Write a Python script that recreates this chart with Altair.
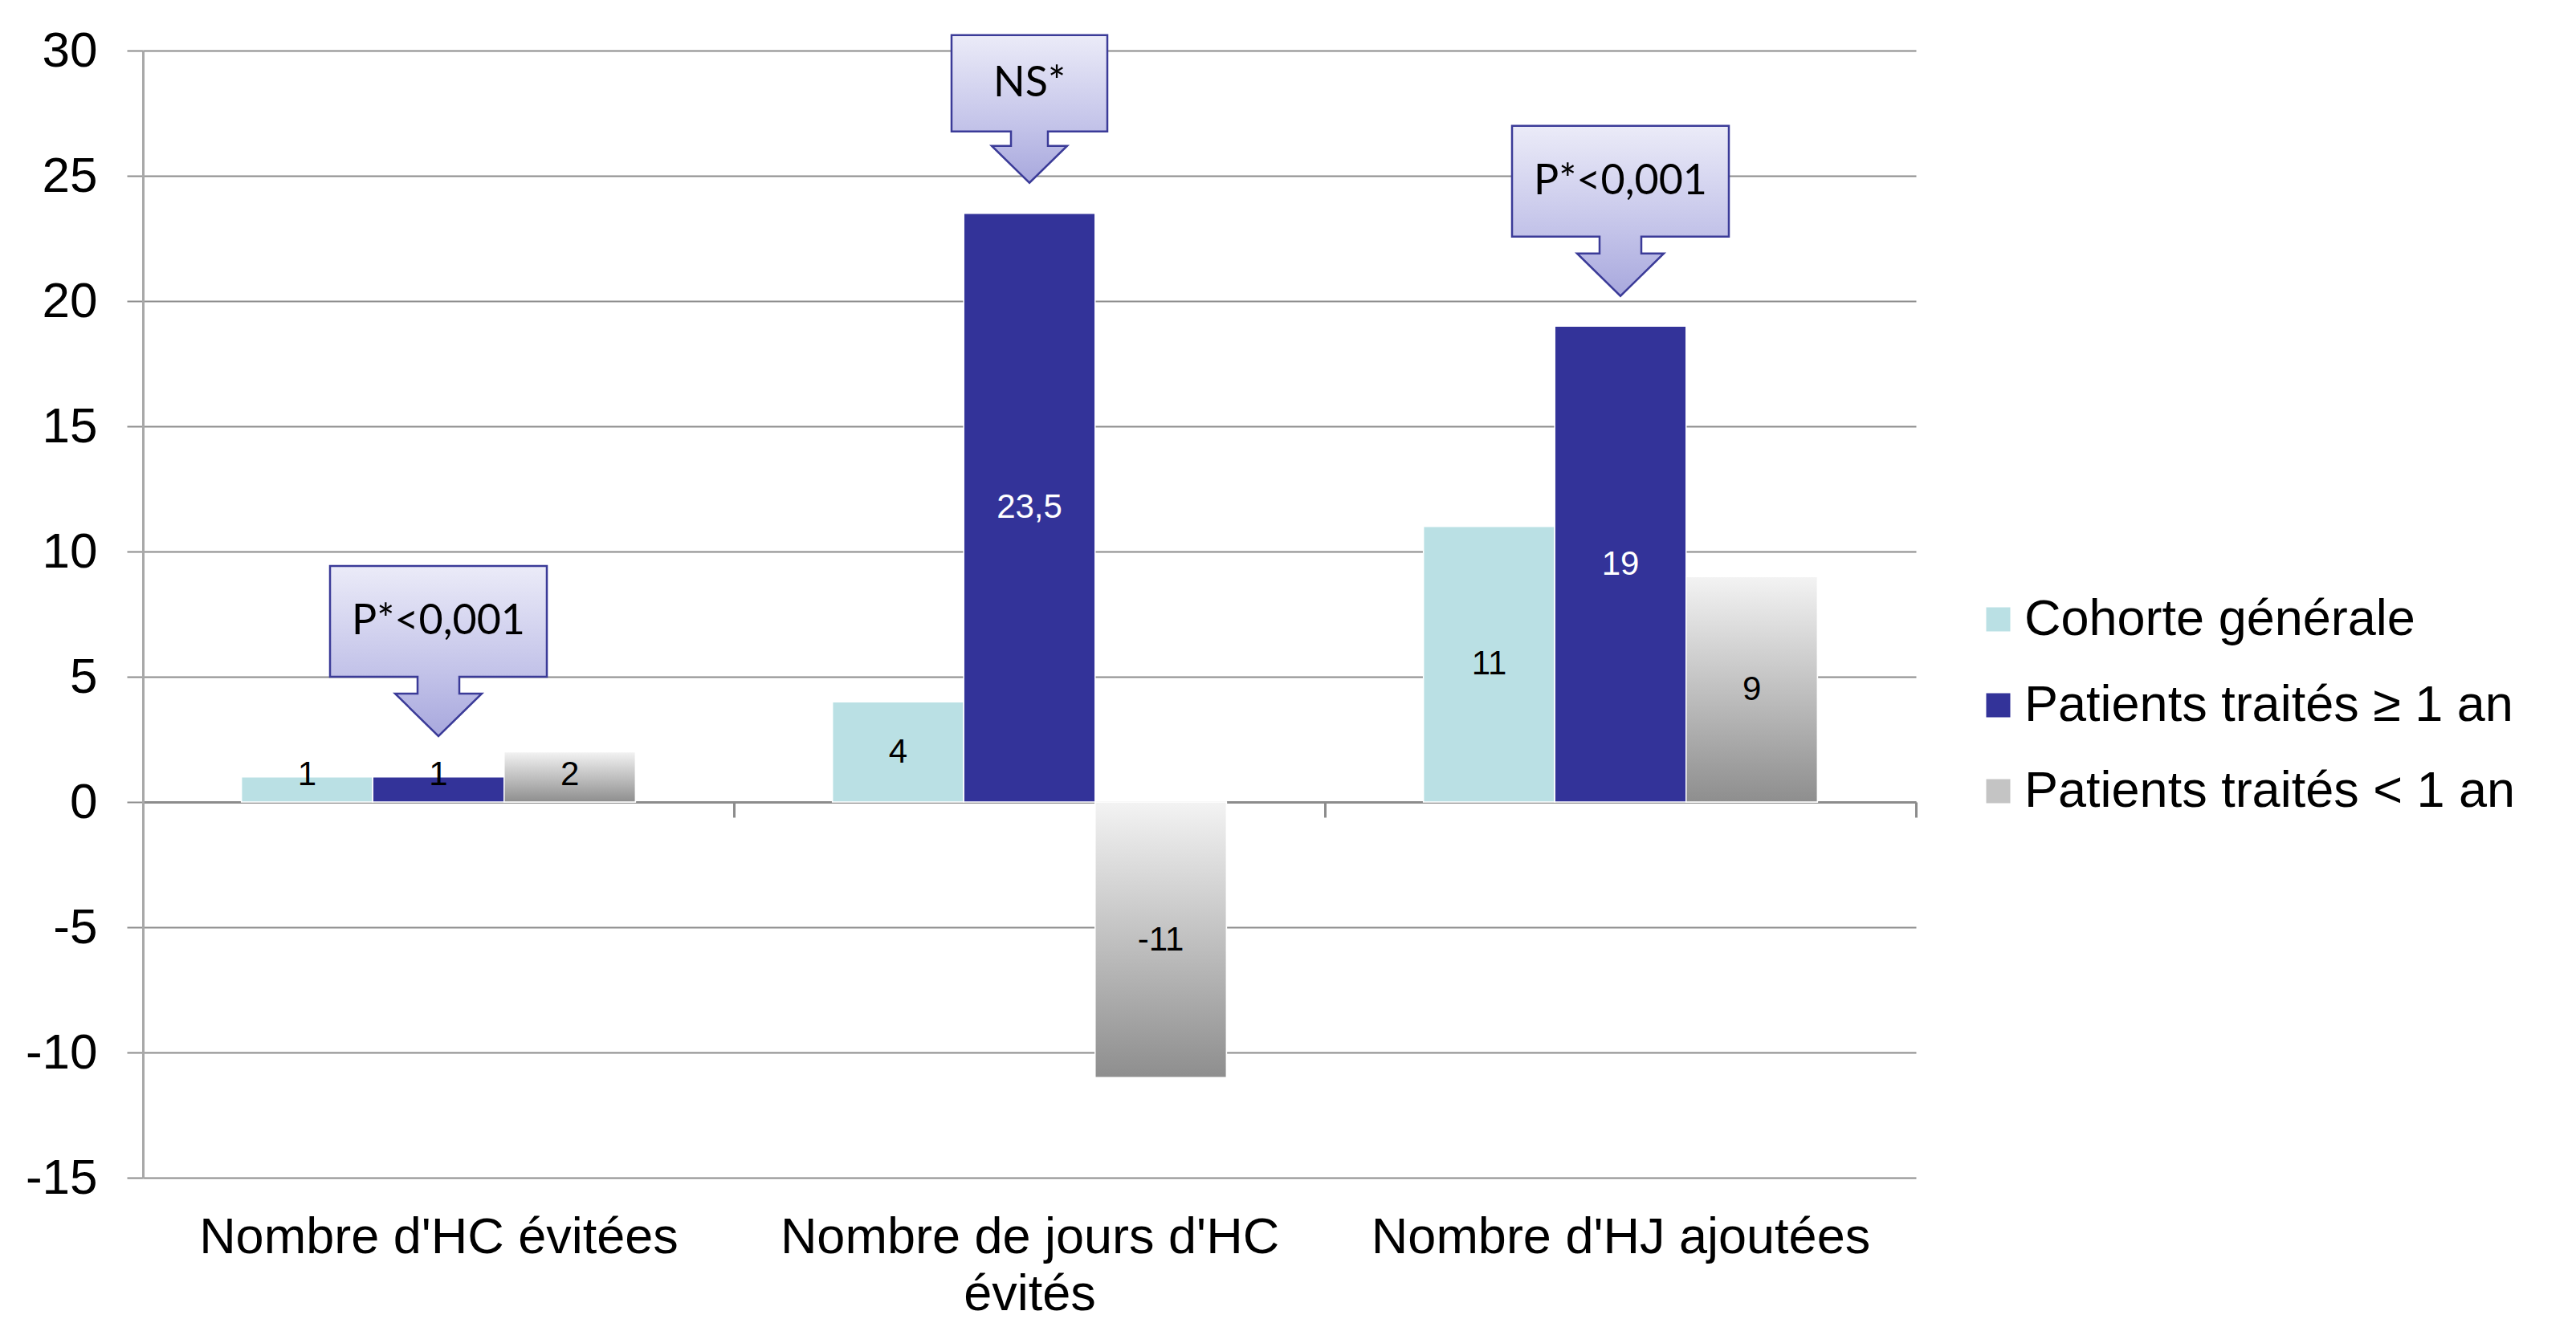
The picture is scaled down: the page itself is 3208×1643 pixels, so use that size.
import altair as alt
import pandas as pd

# ---------------- data ----------------
categories = ["Nombre d'HC évitées", "Nombre de jours d'HC évités", "Nombre d'HJ ajoutées"]
category_label_lines = [["Nombre d'HC évitées"], ["Nombre de jours d'HC", "évités"], ["Nombre d'HJ ajoutées"]]
series = ["Cohorte générale", "Patients traités ≥ 1 an", "Patients traités < 1 an"]
cohorte_generale = [1, 4, 11]
traites_plus_1an = [1, 23.5, 19]
traites_moins_1an = [2, -11, 9]
y_ticks = [-15, -10, -5, 0, 5, 10, 15, 20, 25, 30]

callout_categories = ["Nombre d'HC évitées", "Nombre de jours d'HC évités", "Nombre d'HJ ajoutées"]
callout_series = ["Patients traités ≥ 1 an", "Patients traités ≥ 1 an", "Patients traités ≥ 1 an"]
callout_texts = ["P*<0,001", "NS*", "P*<0,001"]
callout_tips = [2.63, 24.72, 20.2]

# ---------------- table ----------------
rows = []
for s, vals in zip(series, [cohorte_generale, traites_plus_1an, traites_moins_1an]):
    for c, v in zip(categories, vals):
        rows.append({"categorie": c, "serie": s, "valeur": v,
                     "label": f"{v:g}".replace(".", ",")})
df = pd.DataFrame(rows)

cdf = pd.DataFrame({"categorie": callout_categories, "serie": callout_series,
                    "texte": callout_texts, "pointe": callout_tips,
                    "idx": list(range(len(callout_texts)))})

# ---------------- styles ----------------
FONT = "Liberation Sans"
GRID = "#8c8c8c"
COLORS = ["#bae0e4", "#333399", "#c4c4c4"]

gray_grad = alt.Gradient(gradient="linear", x1=0, y1=0, x2=0, y2=1,
                         stops=[alt.GradientStop(color="#f3f3f3", offset=0),
                                alt.GradientStop(color="#8e8e8e", offset=1)])
callout_grad = alt.Gradient(gradient="linear", x1=0, y1=0, x2=0, y2=1,
                            stops=[alt.GradientStop(color="#ebebf8", offset=0),
                                   alt.GradientStop(color="#c3c3e9", offset=0.62),
                                   alt.GradientStop(color="#a8a8dd", offset=1)])

# label wrapping expression built from the label lines list
expr = "datum.label"
for c, lines in zip(categories, category_label_lines):
    if len(lines) > 1:
        arr = "[" + ", ".join('"' + l + '"' for l in lines) + "]"
        expr = f'datum.label == "{c}" ? {arr} : ({expr})'

x_enc = alt.X("categorie:N", sort=categories, title=None,
              scale=alt.Scale(domain=categories, paddingInner=0, paddingOuter=0),
              axis=alt.Axis(orient="bottom", offset=-468, tickBand="extent",
                            domainColor=GRID, domainWidth=3, tickColor=GRID,
                            tickWidth=3, tickSize=19, labelPadding=492,
                            labelFont=FONT, labelFontSize=63, labelColor="black",
                            labelLineHeight=71, labelAngle=0, labelLimit=1200,
                            labelExpr=expr, grid=False))
xo_enc = alt.XOffset("serie:N", sort=series,
                     scale=alt.Scale(domain=series, paddingInner=0, paddingOuter=0.75))
y_scale = alt.Scale(domain=[-15, 30], nice=False, zero=False)
y_axis = alt.Axis(values=y_ticks, grid=True, gridColor=GRID, gridWidth=2,
                  domainColor="#a8a8a8", domainWidth=3, tickColor=GRID,
                  tickWidth=2, tickSize=20, labelPadding=37, labelFont=FONT,
                  labelFontSize=62, labelColor="black", title=None,
                  labelExpr="datum.value < 0 ? '-' + abs(datum.value) : '' + datum.value")

base = alt.Chart(df)

bars = base.mark_bar(stroke="white", strokeWidth=1.5).encode(
    x=x_enc, xOffset=xo_enc,
    y=alt.Y("valeur:Q", scale=y_scale, axis=y_axis),
    color=alt.Color("serie:N", sort=series,
                    scale=alt.Scale(domain=series, range=COLORS),
                    legend=alt.Legend(orient="none", legendX=2279, legendY=677,
                                      title=None, symbolType="square",
                                      symbolSize=900, symbolStrokeWidth=0,
                                      labelFont=FONT, labelFontSize=63,
                                      labelColor="black", rowPadding=43,
                                      labelOffset=1, labelLimit=1200)),
)

gray_bars = base.transform_filter(alt.datum.serie == series[2]).mark_bar(
    fill=gray_grad, stroke="white", strokeWidth=1.5).encode(
    x=x_enc, xOffset=xo_enc, y=alt.Y("valeur:Q", scale=y_scale, axis=y_axis))

bar_labels = base.transform_calculate(
    mid="datum.valeur > 0 ? max(datum.valeur / 2, 1.08) : datum.valeur / 2"
).mark_text(font=FONT, fontSize=42, baseline="middle", align="center").encode(
    x=x_enc, xOffset=xo_enc,
    y=alt.Y("mid:Q", scale=y_scale, axis=y_axis),
    text="label:N",
    color=alt.condition(
        f"datum.serie == '{series[1]}' && datum.valeur >= 5",
        alt.value("white"), alt.value("black")),
)

# callout shapes (tip of the arrow at origin, coordinates in px with size=4)
shape_big = ("M-135,-212L135,-212L135,-74L26,-74L26,-53L54,-53L0,0"
             "L-54,-53L-26,-53L-26,-74L-135,-74Z")
shape_small = ("M-97,-184L97,-184L97,-64L23,-64L23,-46L47,-46L0,0"
               "L-47,-46L-23,-46L-23,-64L-97,-64Z")
callout_style = [(shape_big, -143), (shape_small, -124), (shape_big, -143)]

callout_layers = []
cbase = alt.Chart(cdf)
for i, (shape, dy) in enumerate(callout_style):
    sub = cbase.transform_filter(alt.datum.idx == i)
    callout_layers.append(
        sub.mark_point(shape=shape, size=4, filled=True, fill=callout_grad,
                       stroke="#3b3b98", strokeWidth=2.5, opacity=1,
                       fillOpacity=1, strokeOpacity=1).encode(
            x=x_enc, xOffset=xo_enc,
            y=alt.Y("pointe:Q", scale=y_scale, axis=y_axis)))
    callout_layers.append(
        sub.mark_text(font="Lato", fontSize=52, dy=dy, baseline="middle",
                      align="center", color="black").encode(
            x=x_enc, xOffset=xo_enc,
            y=alt.Y("pointe:Q", scale=y_scale, axis=y_axis),
            text="texte:N"))

chart = alt.layer(bars, gray_bars, bar_labels, *callout_layers).properties(
    width=2208, height=1404,
    autosize=alt.AutoSizeParams(type="none"),
    padding={"left": 178, "top": 63, "right": 822, "bottom": 176},
    background="white",
).configure_view(stroke=None)

chart.save("out.html", embed_options={"renderer": "svg", "actions": False})
